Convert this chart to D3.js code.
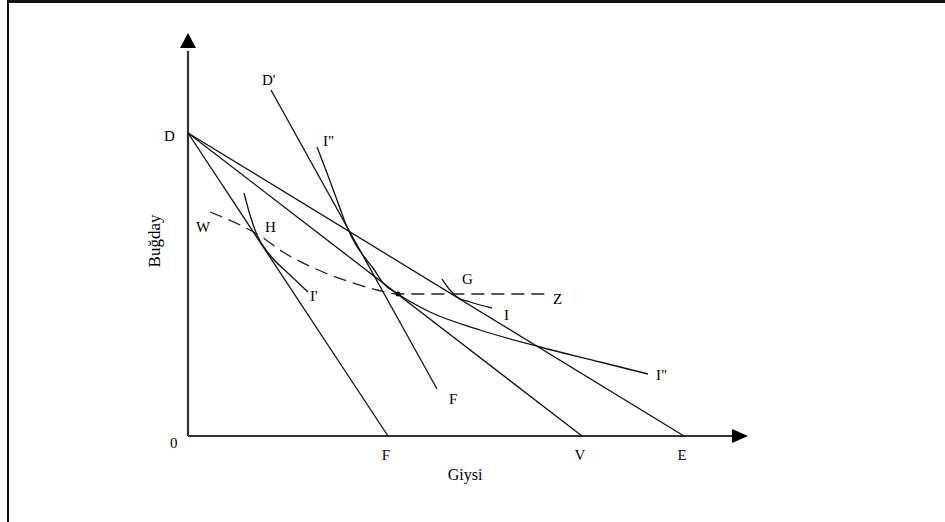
<!DOCTYPE html>
<html>
<head>
<meta charset="utf-8">
<script src="https://cdn.jsdelivr.net/npm/d3@7"></script>
<style>
  body { margin: 0; background: #fff; }
  text { font-family: "Liberation Serif", "DejaVu Serif", serif; fill: #000; }
</style>
</head>
<body>
<div id="chart"></div>
<script>
// chart units: Giysi along x, Bugday along y
const budgetLines = [
  { name: 'DF', from: [0, 60.6], to: [40, 0] },
  { name: 'DV', from: [0, 60.6], to: [78.8, 0] },
  { name: 'DE', from: [0, 60.6], to: [99.2, 0] },
  { name: "D'F'", from: [16.6, 69.2], to: [49.8, 9.4] }
];

const curveI2 = [[25.8, 57.8], [27.8, 52.6], [29.8, 47.2], [31.8, 41.8], [33.6, 38.2],
  [35.4, 35.6], [37, 33.6], [39, 30.6], [42, 28.4], [48.4, 24.8], [58.4, 21.2],
  [70.4, 17.8], [82.4, 14.8], [92, 12.4]];
const curveI1 = [[11.2, 48.6], [12.4, 44.2], [13.8, 40.2], [16.4, 36.2], [20.4, 32.2], [24, 28.8]];
const curveI = [[50.8, 31.4], [52.4, 29.2], [53.8, 27.8], [56.4, 26.8], [60.8, 25.6]];
const curveWZ = [[4.4, 44.8], [10.4, 42.2], [13.8, 40.4], [19, 36.8], [27, 32.8],
  [32.4, 30.8], [37.8, 29.2], [42, 28.4], [57, 28.4], [72, 28.4]];
const dotPoint = [42, 28.4];

const labels = [
  { t: 'D', at: [0, 60.6], dx: -24, dy: 8 },
  { t: "D'", at: [16.6, 69.2], dx: -9, dy: -5 },
  { t: 'I"', at: [25.8, 57.8], dx: 6, dy: -1 },
  { t: 'W', at: [4.4, 44.8], dx: -14, dy: 20 },
  { t: 'H', at: [13.8, 40.4], dx: 8, dy: -2 },
  { t: "I'", at: [24, 28.8], dx: 2, dy: 9 },
  { t: 'G', at: [53.6, 27.8], dx: 6, dy: -13 },
  { t: 'Z', at: [72, 28.4], dx: 5, dy: 10 },
  { t: 'I', at: [60.8, 25.6], dx: 12, dy: 12 },
  { t: 'I"', at: [92, 12.4], dx: 8, dy: 6 },
  { t: 'F', at: [49.8, 9.4], dx: 12, dy: 15 },
  { t: '0', at: [0, 0], dx: -18, dy: 12 }
];
const axisLabels = [
  { t: 'F', at: 40 },
  { t: 'V', at: 78.8 },
  { t: 'E', at: 99.2 }
];
const xTitle = 'Giysi';
const yTitle = 'Buğday';

const w = 945, h = 522;
const ox = 188, oy = 436;

const svg = d3.select('#chart').append('svg')
  .attr('width', w)
  .attr('height', h);

// frame (left and top edge are all that show)
svg.append('line').attr('x1', 8).attr('y1', 0).attr('x2', 8).attr('y2', h)
  .attr('stroke', '#111').attr('stroke-width', 2);
svg.append('line').attr('x1', 8).attr('y1', 1.5).attr('x2', w).attr('y2', 1.5)
  .attr('stroke', '#111').attr('stroke-width', 3);

const x = d3.scaleLinear().domain([0, 112]).range([ox, ox + 560]);
const y = d3.scaleLinear().domain([0, 80.6]).range([oy, oy - 403]);

// axes
svg.append('line')
  .attr('x1', x(0)).attr('y1', y(0)).attr('x2', x(0)).attr('y2', y(77))
  .attr('stroke', '#333').attr('stroke-width', 2.2);
svg.append('line')
  .attr('x1', x(0)).attr('y1', y(0)).attr('x2', x(109)).attr('y2', y(0))
  .attr('stroke', '#333').attr('stroke-width', 2.2);
svg.append('path')
  .attr('d', `M${x(0)},${y(80.6)} L${x(0) - 8},${y(77.6)} L${x(0) + 8},${y(77.6)} Z`)
  .attr('fill', '#000');
svg.append('path')
  .attr('d', `M${x(112)},${y(0)} L${x(108.8)},${y(0) - 7} L${x(108.8)},${y(0) + 7} Z`)
  .attr('fill', '#000');

// budget lines
svg.selectAll('.budget')
  .data(budgetLines)
  .enter()
  .append('line')
  .attr('class', 'budget')
  .attr('x1', d => x(d.from[0])).attr('y1', d => y(d.from[1]))
  .attr('x2', d => x(d.to[0])).attr('y2', d => y(d.to[1]))
  .attr('stroke', '#111').attr('stroke-width', 1.3);

const line = d3.line()
  .x(d => x(d[0]))
  .y(d => y(d[1]))
  .curve(d3.curveMonotoneX);

[curveI2, curveI1, curveI].forEach(c => {
  svg.append('path')
    .attr('d', line(c))
    .attr('fill', 'none')
    .attr('stroke', '#111')
    .attr('stroke-width', 1.3);
});

svg.append('path')
  .attr('d', line(curveWZ))
  .attr('fill', 'none')
  .attr('stroke', '#222')
  .attr('stroke-width', 1.3)
  .attr('stroke-dasharray', '13,7');

svg.append('circle')
  .attr('cx', x(dotPoint[0])).attr('cy', y(dotPoint[1]))
  .attr('r', 2.5).attr('fill', '#000');

// letters
svg.selectAll('.lbl')
  .data(labels)
  .enter()
  .append('text')
  .attr('class', 'lbl')
  .attr('x', d => x(d.at[0]) + d.dx)
  .attr('y', d => y(d.at[1]) + d.dy)
  .attr('font-size', 15)
  .text(d => d.t);

svg.selectAll('.xlbl')
  .data(axisLabels)
  .enter()
  .append('text')
  .attr('class', 'xlbl')
  .attr('x', d => x(d.at) - 2)
  .attr('y', y(0) + 24)
  .attr('text-anchor', 'middle')
  .attr('font-size', 15)
  .text(d => d.t);

svg.append('text')
  .attr('x', x(55.4))
  .attr('y', y(0) + 44)
  .attr('text-anchor', 'middle')
  .attr('font-size', 16)
  .text(xTitle);

svg.append('text')
  .attr('transform', `translate(${x(0) - 28},${y(39)}) rotate(-90)`)
  .attr('text-anchor', 'middle')
  .attr('font-size', 17)
  .text(yTitle);
</script>
</body>
</html>
